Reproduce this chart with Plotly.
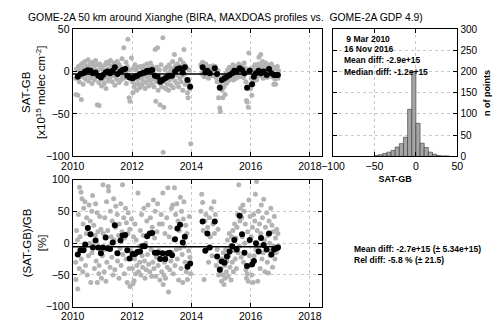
import plotly.graph_objects as go

# monthly means (black dots), decimal year
mon_date = [2010.17, 2010.26, 2010.36, 2010.42, 2010.51, 2010.60, 2010.68, 2010.77, 2010.86, 2010.95,
            2011.02, 2011.11, 2011.18, 2011.26, 2011.35, 2011.42, 2011.51, 2011.61, 2011.68, 2011.77,
            2011.84, 2011.92, 2012.02, 2012.10, 2012.18, 2012.27, 2012.35, 2012.43, 2012.51, 2012.60,
            2012.68, 2012.77, 2012.86, 2012.95, 2013.03, 2013.12, 2013.20, 2013.27, 2013.35, 2013.45,
            2013.53, 2013.62, 2013.71, 2013.78, 2013.87, 2013.96, 2014.38, 2014.47, 2014.54, 2014.62,
            2014.79, 2014.87, 2014.96, 2015.03, 2015.12, 2015.20, 2015.29, 2015.38, 2015.45, 2015.53,
            2015.63, 2015.71, 2015.79, 2015.88, 2015.97, 2016.05, 2016.11, 2016.18, 2016.27, 2016.35,
            2016.44, 2016.54, 2016.62, 2016.70, 2016.79, 2016.86, 2016.92]
mon_abs = [-6, -3, -2, 0, 1.5, 1, -2, -1, -5, -7,
           -4, -1, 0, -2, 1, 5, -3, 0, 2, 3,
           -5, -7, -8, -6, -5, -3, -2, -1, 1, 1,
           2, -5, -6, -12, -10, -8, -6, -5, -5, 0,
           3, 4, -1, 5, -10, -18, 5, -1, 1, -2,
           4, -3, -19, -10, -8, -6, -4, -2, 1, 0,
           4, 2, -2, -19, 1, -15, -6, -2, 1, -2,
           0, -4, 3, -2, -4, -4, -4]
mon_rel = [-18, -11, -11, -2, 24, 14, -7, 4, -7, -16,
           -7, 9, -8, -9, 1, 28, -16, 4, 12, 13,
           -11, -24, -17, -17, -14, -13, -5, -5, 11, 15,
           16, -15, -15, -25, -16, -25, -16, -15, -19, 6,
           23, 29, 1, 10, -37, -32, 34, -12, 15, -7,
           34, -21, -42, -29, -31, -21, -13, -5, 5, -10,
           43, 14, -15, -36, 5, -33, -28, 0, -13, 8,
           -3, -10, 15, -18, -10, -8, -7]

# individual coincidences (grey dots)
grey_date = [
    2010.10, 2010.11, 2010.13, 2010.16, 2010.17, 2010.19, 2010.22, 2010.23, 2010.25, 2010.28,
    2010.29, 2010.31, 2010.34, 2010.35, 2010.37, 2010.40, 2010.41, 2010.43, 2010.46, 2010.47,
    2010.49, 2010.52, 2010.53, 2010.55, 2010.58, 2010.59, 2010.61, 2010.64, 2010.65, 2010.67,
    2010.70, 2010.71, 2010.73, 2010.76, 2010.77, 2010.79, 2010.82, 2010.83, 2010.85, 2010.88,
    2010.89, 2010.91, 2010.94, 2010.95, 2010.97,
    2011.00, 2011.02, 2011.03, 2011.06, 2011.08, 2011.09, 2011.12, 2011.14, 2011.15, 2011.18,
    2011.20, 2011.21, 2011.24, 2011.26, 2011.27, 2011.30, 2011.32, 2011.33, 2011.36, 2011.38,
    2011.39, 2011.42, 2011.44, 2011.45, 2011.48, 2011.50, 2011.51, 2011.54, 2011.56, 2011.57,
    2011.60, 2011.62, 2011.63, 2011.66, 2011.68, 2011.69, 2011.72, 2011.74, 2011.75, 2011.78,
    2011.80, 2011.81, 2011.84, 2011.86, 2011.87, 2011.90, 2011.92, 2011.93, 2011.96, 2011.98,
    2012.01, 2012.03, 2012.05, 2012.07, 2012.09, 2012.10, 2012.12, 2012.14, 2012.16, 2012.18,
    2012.20, 2012.22, 2012.24, 2012.26, 2012.28, 2012.30, 2012.32, 2012.34, 2012.36, 2012.38,
    2012.40, 2012.42, 2012.44, 2012.46, 2012.48, 2012.50, 2012.52, 2012.54, 2012.56, 2012.58,
    2012.60, 2012.62, 2012.64, 2012.66, 2012.68, 2012.70, 2012.72, 2012.74, 2012.76, 2012.78,
    2012.80, 2012.82, 2012.84, 2012.86, 2012.88, 2012.90, 2012.92, 2012.94, 2012.96, 2012.98,
    2013.00, 2013.02, 2013.04, 2013.05, 2013.07, 2013.09, 2013.11, 2013.13, 2013.15, 2013.17,
    2013.19, 2013.21, 2013.23, 2013.25, 2013.27, 2013.29, 2013.31, 2013.33, 2013.35, 2013.37,
    2013.39, 2013.41, 2013.43, 2013.45, 2013.47, 2013.49, 2013.51, 2013.53, 2013.55, 2013.57,
    2013.59, 2013.61, 2013.63, 2013.65, 2013.67, 2013.69, 2013.71, 2013.73, 2013.75, 2013.77,
    2013.79, 2013.81, 2013.83, 2013.85, 2013.87, 2013.89, 2013.91, 2013.93, 2013.95, 2013.98,
    2014.32, 2014.35, 2014.38, 2014.40, 2014.43, 2014.46, 2014.49, 2014.52, 2014.55, 2014.58,
    2014.61, 2014.64, 2014.67, 2014.70, 2014.73, 2014.76, 2014.78, 2014.81, 2014.84, 2014.87,
    2014.90, 2014.92, 2014.94, 2014.96, 2014.98,
    2015.00, 2015.02, 2015.04, 2015.06, 2015.08, 2015.10, 2015.12, 2015.14, 2015.16, 2015.18,
    2015.20, 2015.22, 2015.24, 2015.26, 2015.28, 2015.30, 2015.32, 2015.34, 2015.36, 2015.38,
    2015.40, 2015.42, 2015.44, 2015.46, 2015.48, 2015.50, 2015.52, 2015.54, 2015.56, 2015.58,
    2015.60, 2015.62, 2015.64, 2015.66, 2015.68, 2015.70, 2015.72, 2015.74, 2015.76, 2015.78,
    2015.80, 2015.82, 2015.84, 2015.86, 2015.88, 2015.90, 2015.92, 2015.94, 2015.96, 2015.98,
    2016.00, 2016.02, 2016.04, 2016.06, 2016.08, 2016.10, 2016.12, 2016.14, 2016.16, 2016.18,
    2016.20, 2016.22, 2016.24, 2016.26, 2016.28, 2016.30, 2016.32, 2016.34, 2016.36, 2016.38,
    2016.40, 2016.42, 2016.44, 2016.46, 2016.48, 2016.50, 2016.52, 2016.54, 2016.56, 2016.58,
    2016.60, 2016.62, 2016.64, 2016.66, 2016.68, 2016.70, 2016.72, 2016.74, 2016.76, 2016.78,
    2016.80, 2016.82, 2016.84, 2016.86, 2016.88, 2016.90, 2016.92, 2016.94]
grey_abs = [
    -8, -27, 3, -5, -28, 6, -12, 2, -3, 8, -33, -6, 10, -15, 4, -2, 12, -9, 1, 7,
    -4, 14, -11, 5, -1, 9, -7, 3, -14, 11, -3, 6, -10, 0, 13, -6, 8, -39, 2, -13,
    -40, 9, -5, 4, -17,
    5, -9, 2, -14, 8, -3, -20, 11, -6, 3, -11, 9, 0, -7, 13, -2, 6, -12, 4, -5,
    10, -16, 1, 7, -9, 12, -4, 3, -13, 8, -1, 5, -10, 15, -6, 2, 28, -8, 4, -3,
    11, -14, 6, 38, -7, -31, 2, -35, -9, 16,
    -12, -25, 4, -18, -6, 8, -15, 2, -22, -9, 5, -14, -3, -19, 6, -8, -1, -16, 3, -11,
    7, -5, -20, 1, -13, 9, -7, -2, -17, 4, -10, 10, -4, -15, 6, -9, -1, -18, 3, 26,
    -35, -12, 5, 28, -22, -6, 2, -39, -14, 8,
    -18, -8, 40, -95, -42, -12, 3, -20, -6, 5, -15, -2, -22, 8, -10, 0, -16, 4, -7, 12,
    -19, 2, 20, -11, 7, -4, -14, 9, -1, -18, 6, -8, 14, -12, 3, -5, -22, 10, 26, -3,
    -15, 7, -9, 4, -25, -31, -12, 2, -20, -85,
    8, -3, 11, 2, -6, 5, 9, -2, 4, -8, 6, -1, 3, -5, 7, -4, 2, 6, -7, -12,
    1, -31, -18, -43, -47,
    -15, -8, -22, -31, -5, -18, -10, -27, -3, -14, -7, 2, -11, -4, 5, -9, 0, -6, 4, -2,
    8, -10, -1, 6, -5, 3, -8, 1, 7, -3, 9, -6, 2, 5, -4, 6, -1, 3, -7, 10,
    -2, 4, -12, -34, -36, 1, -42, 22, -16, 3,
    -20, -8, -28, 2, -12, 5, -4, 8, -6, 3, -10, 6, -2, 9, 17, -5, 4, 20, -3, 7,
    12, -8, 1, 5, -4, 10, -1, 3, -7, 6, 0, -3, 8, -5, 2, 9, -6, 4, -2, -15,
    5, -9, -15, 3, -4, 6, -8, 1]
grey_rel = [
    -30, -57, 20, 5, -72, 45, -40, 88, 10, 80, -25, 70, -45, 30, 55, -10, 65, -35, 15, 40,
    -50, 25, -20, 60, 0, 35, -62, 50, -15, 75, -5, 28, -40, 12, 62, -28, 48, -62, 18, -48,
    -35, 42, -8, 22, -55,
    -20, 92, 15, -45, 40, -10, -60, 65, -30, 20, 89, 82, -5, -38, 50, 10, -22, 35, -50, 70,
    5, -42, 25, 58, -15, 45, -28, 12, -55, 30, -8, 62, -35, 18, 92, -18, 40, -48, 8, 55,
    -25, 32, -62, 15, 48, -40, 22, -68, -12, 38,
    -40, -64, 10, -59, -25, 30, -48, 5, -35, -15, 79, -45, -5, -30, 20, -50, 45, -20, -38, 12,
    55, -28, -55, 0, -42, 35, -18, 60, -33, 15, -45, 40, -10, -52, 25, -30, 68, -40, 8, 50,
    -52, -22, 18, 62, -35, -12, 30, -58, -25, 45,
    -45, 30, 79, -65, -50, -30, 15, -55, -20, 40, -38, 87, -77, 10, -42, 25, -28, 55, -15, 60,
    -48, 5, 87, -35, 45, -10, 62, -25, 35, -58, 20, -8, 72, -40, 50, -18, -62, 38, 65, -5,
    -30, 28, -45, 15, -57, -35, -12, 42, -22, -48,
    50, 77, 64, 20, -57, 35, 45, -10, 25, -30, 40, 10, 55, -20, 30, 65, 15, 45, -35, -10,
    22, -50, -40, -28, -45,
    -40, -60, -25, -50, -15, -65, -35, -55, -10, -45, -28, 5, -52, -20, 15, -38, -5, -58, 10, -30,
    20, -45, -12, 30, -25, 8, -40, 25, 45, -15, 92, -5, 35, 55, -22, 40, 10, 60, -30, 50,
    0, 30, -42, -55, -48, 18, -60, 68, -20, 42,
    -35, 10, -50, 25, -62, 45, -20, 35, 77, -10, 97, 20, -60, 50, -5, 30, -40, 15, 60, -25,
    40, -15, 69, 5, -45, 25, -8, 48, -30, 12, -47, 35, 0, -20, 55, -12, 28, -38, 18, -5,
    42, -25, 8, -15, 22, -10, 15, -5]

# histogram of SAT-GB (bin left edges, width 5)
hist_left = [-50, -45, -40, -35, -30, -25, -20, -15, -10, -5, 0, 5, 10, 15, 20, 25, 30, 35]
hist_count = [2, 4, 7, 10, 14, 22, 30, 45, 111, 200, 78, 31, 21, 10, 5, 2, 1, 1]

mean_abs = -2.9
mean_rel = -5.8
line_span = [2010.0, 2016.95]

year_ticks = [2010, 2012, 2014, 2016, 2018]

GREY = "#b3b3b3"
FONT = "Liberation Sans, Arial, sans-serif"

fig = go.Figure()

# top panel: absolute difference
fig.add_trace(go.Scatter(x=grey_date, y=grey_abs, mode="markers",
                         marker=dict(color=GREY, size=5), xaxis="x", yaxis="y"))
fig.add_trace(go.Scatter(x=line_span, y=[mean_abs, mean_abs], mode="lines",
                         line=dict(color="black", width=1.5), xaxis="x", yaxis="y"))
fig.add_trace(go.Scatter(x=mon_date, y=mon_abs, mode="markers",
                         marker=dict(color="black", size=6), xaxis="x", yaxis="y"))

# histogram
fig.add_trace(go.Bar(x=hist_left, y=hist_count, offset=0, width=5,
                     marker=dict(color="#a6a6a6", line=dict(color="#333333", width=0.6)),
                     xaxis="x2", yaxis="y2"))

# bottom panel: relative difference
fig.add_trace(go.Scatter(x=grey_date, y=grey_rel, mode="markers",
                         marker=dict(color=GREY, size=5), xaxis="x3", yaxis="y3"))
fig.add_trace(go.Scatter(x=line_span, y=[mean_rel, mean_rel], mode="lines",
                         line=dict(color="black", width=1.5), xaxis="x3", yaxis="y3"))
fig.add_trace(go.Scatter(x=mon_date, y=mon_rel, mode="markers",
                         marker=dict(color="black", size=6), xaxis="x3", yaxis="y3"))

ax = dict(showline=True, linecolor="black", linewidth=1.2, mirror="ticks",
          ticks="inside", ticklen=4, tickcolor="black", zeroline=False,
          showgrid=True, gridcolor="#c8c8c8", griddash="dot", gridwidth=1,
          tickfont=dict(size=10.5, color="black"))

fig.update_layout(
    width=500, height=334,
    margin=dict(l=0, r=0, t=0, b=0),
    paper_bgcolor="white", plot_bgcolor="white",
    showlegend=False,
    font=dict(family=FONT, color="black"),
    xaxis=dict(ax, domain=[0.126, 0.644], anchor="y", range=[2010, 2018.42],
               tickvals=year_ticks),
    yaxis=dict(ax, domain=[0.533, 0.928], anchor="x", range=[-100, 50],
               tickvals=[-100, -50, 0, 50]),
    xaxis2=dict(ax, domain=[0.666, 0.924], anchor="y2", range=[-100, 50],
                tickvals=[-100, -50, 0, 50],
                title=dict(text="<b>SAT-GB</b>", font=dict(size=9), standoff=4)),
    yaxis2=dict(ax, domain=[0.533, 0.928], anchor="x2", range=[0, 300], side="right",
                tickvals=[0, 50, 100, 150, 200, 250, 300],
                tickfont=dict(size=10, color="black")),
    xaxis3=dict(ax, domain=[0.126, 0.644], anchor="y3", range=[2010, 2018.42],
                tickvals=year_ticks),
    yaxis3=dict(ax, domain=[0.066, 0.461], anchor="x3", range=[-100, 100],
                tickvals=[-100, -50, 0, 50, 100]),
)

notes = [
    dict(text="GOME-2A 50 km around Xianghe (BIRA, MAXDOAS profiles vs.  GOME-2A GDP 4.9)",
         x=15 / 500, y=1 - 12 / 334, xanchor="left", size=10.4, bold=False, angle=0),
    dict(text="SAT-GB<br>[x10<sup>15</sup> molec cm<sup>-2</sup>]",
         x=23 / 500, y=1 - 90 / 334, xanchor="center", size=11.5, bold=False, angle=-90),
    dict(text="(SAT-GB)/GB<br>[%]",
         x=23 / 500, y=1 - 246 / 334, xanchor="center", size=11.5, bold=False, angle=-90),
    dict(text="n of points", x=492 / 500, y=1 - 90 / 334, xanchor="center", size=9,
         bold=True, angle=-90),
    dict(text=" 9 Mar 2010", x=342 / 500, y=1 - 34 / 334, xanchor="left", size=8.5,
         bold=True, angle=0),
    dict(text="16 Nov 2016", x=342 / 500, y=1 - 45 / 334, xanchor="left", size=8.5,
         bold=True, angle=0),
    dict(text="Mean diff: -2.9e+15", x=342 / 500, y=1 - 56 / 334, xanchor="left", size=8.5,
         bold=True, angle=0),
    dict(text="Median diff: -1.2e+15", x=342 / 500, y=1 - 68 / 334, xanchor="left", size=8.5,
         bold=True, angle=0),
    dict(text="Mean diff: -2.7e+15 (\u00b1 5.34e+15)", x=353 / 500, y=1 - 252 / 334,
         xanchor="left", size=8.5, bold=True, angle=0),
    dict(text="Rel diff: -5.8 % (\u00b1 21.5)", x=353 / 500, y=1 - 263 / 334,
         xanchor="left", size=8.5, bold=True, angle=0),
]
for n in notes:
    txt = "<b>" + n["text"] + "</b>" if n["bold"] else n["text"]
    fig.add_annotation(text=txt, x=n["x"], y=n["y"], xref="paper", yref="paper",
                       xanchor=n["xanchor"], yanchor="middle", showarrow=False,
                       textangle=n["angle"], font=dict(size=n["size"], color="black"))

# page body has a default margin that pushes the figure off the window edge
fig.write_html("out.html", config={"displayModeBar": False},
               post_script="document.body.style.margin = '0';")
